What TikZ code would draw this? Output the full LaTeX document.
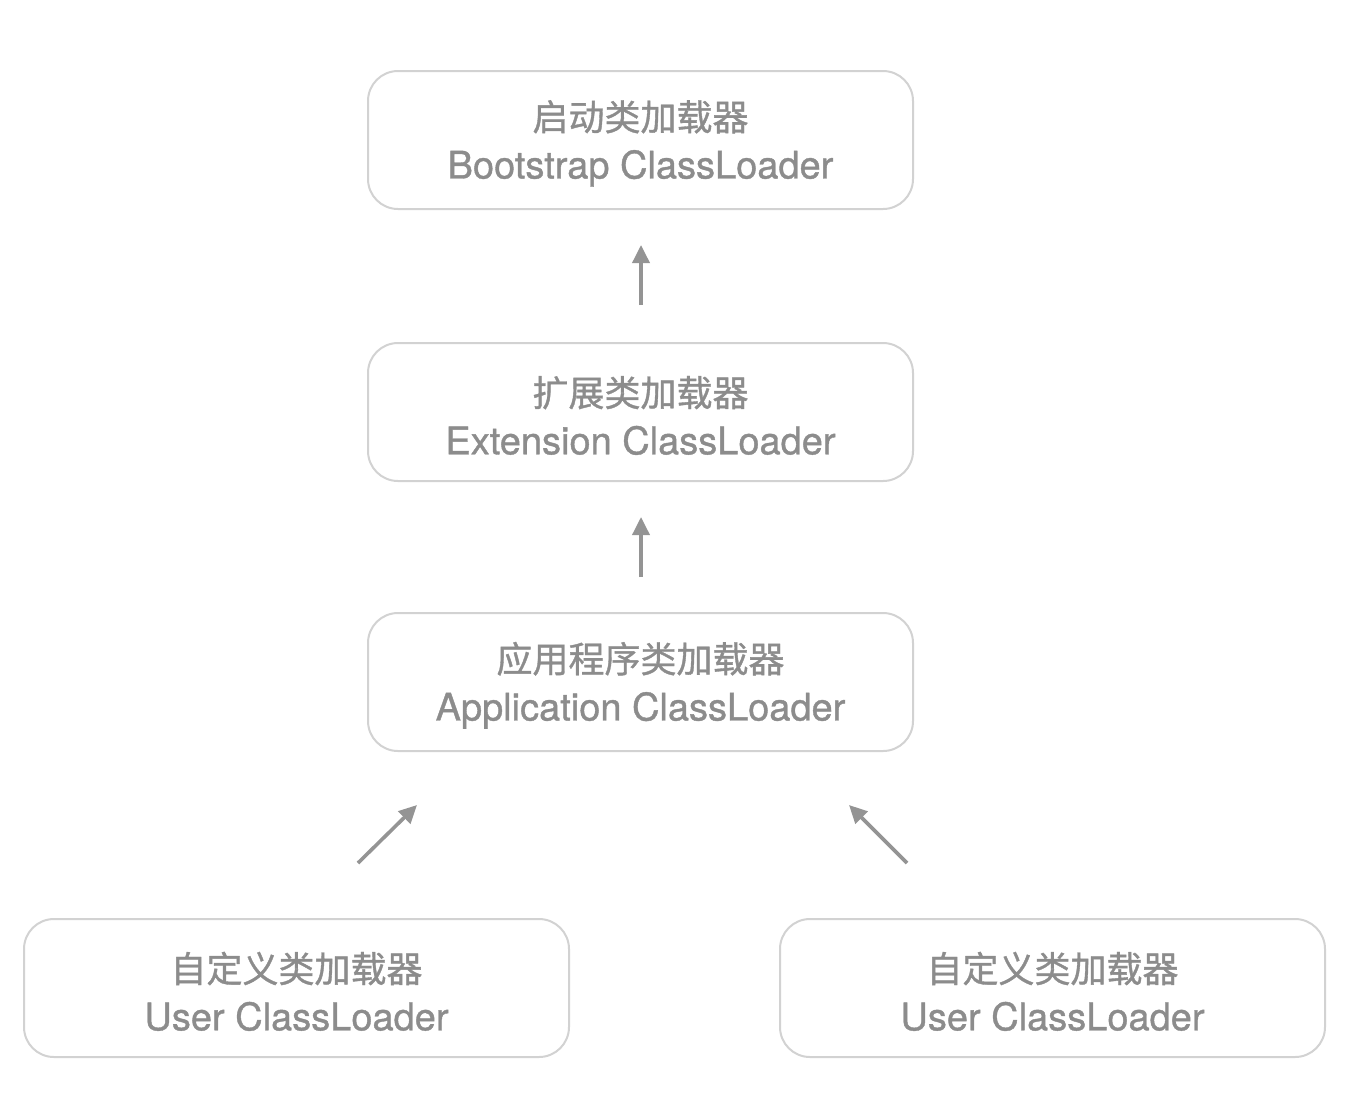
\documentclass[tikz,border=0pt]{standalone}
\usepackage{fontspec}
\setmainfont[FakeBold=1.0]{TeX Gyre Heros}
\newfontfamily\cjk[FakeBold=1.0]{Noto Sans CJK SC}
\usetikzlibrary{arrows.meta}
\definecolor{txtgray}{HTML}{8C8C8C}
\definecolor{boxgray}{HTML}{D2D2D2}
\definecolor{arrgray}{HTML}{949494}
\newcommand{\cnline}[1]{\rule{0pt}{18.6pt}{\cjk\fontsize{18}{24}\selectfont #1}}
\tikzset{
  loaderbox/.style={draw=boxgray, line width=1pt, rounded corners=15pt,
    minimum width=272.5pt, minimum height=69pt, align=center,
    text=txtgray, font=\fontsize{19}{24}\selectfont, inner sep=0pt},
  uparrow/.style={draw=arrgray, line width=1.8pt,
    -{Triangle[length=9pt,width=8.5pt]}}
}
\begin{document}
\begin{tikzpicture}[x=0.5pt,y=-0.5pt]
\useasboundingbox (0,0) rectangle (1370,1110);
\node[loaderbox] (boot) at (640.5,140) {\cnline{启动类加载器}\\Bootstrap ClassLoader};
\node[loaderbox] (ext) at (640.5,412) {\cnline{扩展类加载器}\\Extension ClassLoader};
\node[loaderbox] (app) at (640.5,682) {\cnline{应用程序类加载器}\\Application ClassLoader};
\node[loaderbox] (user1) at (296.5,988) {\cnline{自定义类加载器}\\User ClassLoader};
\node[loaderbox] (user2) at (1052.5,988) {\cnline{自定义类加载器}\\User ClassLoader};
\coordinate (a1s) at (641,305); \coordinate (a1e) at (641,245);
\coordinate (a2s) at (641,577); \coordinate (a2e) at (641,517);
\coordinate (a3s) at (358,863); \coordinate (a3e) at (417,805);
\coordinate (a4s) at (907,863); \coordinate (a4e) at (849,805);
\draw[uparrow] (a1s) -- (a1e);
\draw[uparrow] (a2s) -- (a2e);
\draw[uparrow] (a3s) -- (a3e);
\draw[uparrow] (a4s) -- (a4e);
\end{tikzpicture}
\end{document}
